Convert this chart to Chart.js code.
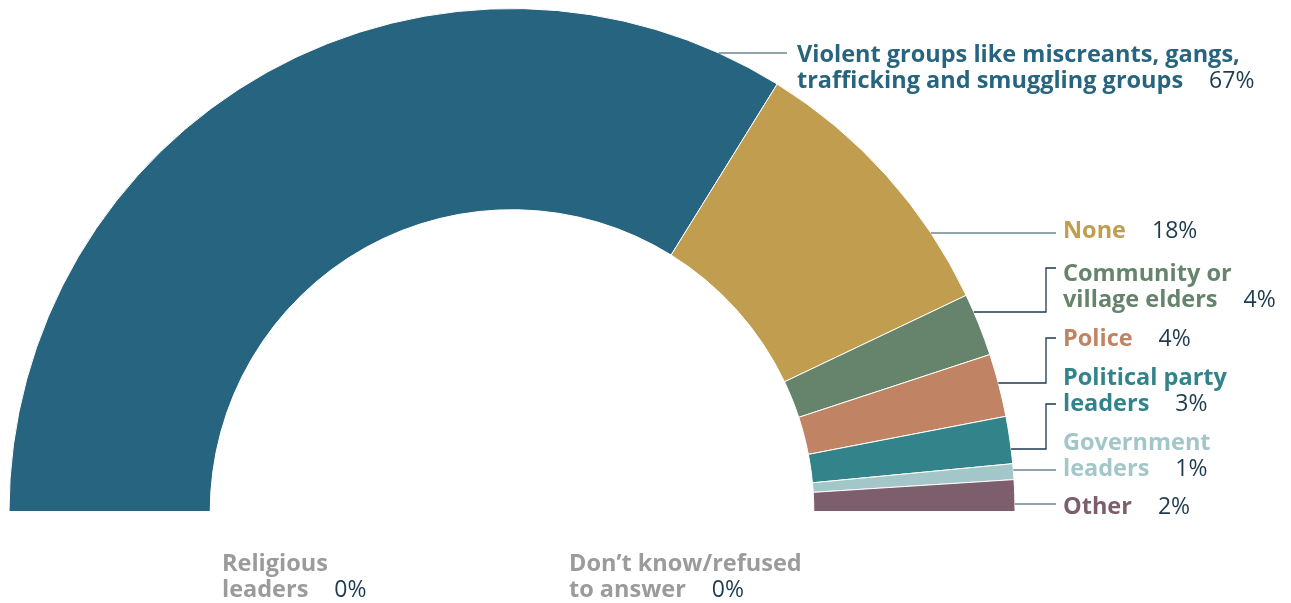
<!DOCTYPE html>
<html>
<head>
<meta charset="utf-8">
<script src="https://cdn.jsdelivr.net/npm/chart.js@4"></script>
<style>
  html, body { margin: 0; padding: 0; background: #fff; }
  #wrap { width: 1291px; height: 603px; position: relative; }
</style>
</head>
<body>
<div id="wrap"><canvas id="myChart"></canvas></div>
<script>
const labels = [
    "Violent groups like miscreants, gangs,\ntrafficking and smuggling groups",
    "None",
    "Community or\nvillage elders",
    "Police",
    "Political party\nleaders",
    "Government\nleaders",
    "Other",
];
const values = [67, 18, 4, 4, 3, 1, 2];
const colors = ["#27647f", "#c09d4f", "#66846b", "#c08464", "#32838a", "#a3c6c8", "#7d5e6c"];

// answers at 0% - no slice, text only
const zeroLabels = ["Religious\nleaders", "Don\u2019t know/refused\nto answer"];
const zeroValues = [0, 0];

// label layout: text x, first line y, leader line y at the arc, elbow top (or null)
const labelPos = [
    { x: 797, y: 55, lineY: 53, elbow: null, lineEnd: 787, lineColor: "#6f8593" },
    { x: 1063, y: 231, lineY: 233, elbow: null, lineEnd: 1056, lineColor: "#6f8593" },
    { x: 1063, y: 274, lineY: 312, elbow: 268, lineEnd: 1056, lineColor: "#1e3a4f" },
    { x: 1063, y: 339, lineY: 383, elbow: 338, lineEnd: 1056, lineColor: "#1e3a4f" },
    { x: 1063, y: 378, lineY: 449, elbow: 404, lineEnd: 1056, lineColor: "#1e3a4f" },
    { x: 1063, y: 443, lineY: 470, elbow: null, lineEnd: 1056, lineColor: "#6f8593" },
    { x: 1063, y: 507, lineY: 504, elbow: null, lineEnd: 1056, lineColor: "#6f8593" },
];
const zeroPos = [{ x: 222, y: 564 }, { x: 569, y: 564 }];

const labelFont = "700 23.5px 'Open Sans'";
const pctFont = "400 23px 'Open Sans'";
const pctColor = "#1d3b4f";
const lineH = 26;

function drawLabel(ctx, text, x, y, color, pct) {
    const lines = text.split("\n");
    ctx.font = labelFont;
    ctx.fillStyle = color;
    ctx.textBaseline = "middle";
    ctx.textAlign = "left";
    lines.forEach((ln, i) => ctx.fillText(ln, x, y + i * lineH));
    const last = lines[lines.length - 1];
    const w = ctx.measureText(last).width;
    ctx.font = pctFont;
    ctx.fillStyle = pctColor;
    ctx.fillText(pct + "%", x + w + 26, y + (lines.length - 1) * lineH);
}

const labelPlugin = {
    id: "labels",
    afterDraw(chart) {
        const ctx = chart.ctx;
        const arc = chart.getDatasetMeta(0).data[0];
        const cx = arc.x, cy = arc.y, R = arc.outerRadius;
        ctx.save();
        labels.forEach((lab, i) => {
            const p = labelPos[i];
            const dy = p.lineY - cy;
            const sx = cx + Math.sqrt(Math.max(R * R - dy * dy, 0));
            ctx.strokeStyle = p.lineColor;
            ctx.lineWidth = 1.3;
            ctx.beginPath();
            ctx.moveTo(sx, p.lineY);
            if (p.elbow !== null) {
                ctx.lineTo(1046, p.lineY);
                ctx.lineTo(1046, p.elbow);
            }
            ctx.lineTo(p.lineEnd, p.elbow !== null ? p.elbow : p.lineY);
            ctx.stroke();
            drawLabel(ctx, lab, p.x, p.y, colors[i], values[i]);
        });
        zeroLabels.forEach((lab, i) => {
            drawLabel(ctx, lab, zeroPos[i].x, zeroPos[i].y, "#9b9b9b", zeroValues[i]);
        });
        ctx.restore();
    },
};

const ctx = document.getElementById("myChart").getContext("2d");

const myChart = new Chart(ctx, {
    type: "doughnut",
    data: {
        labels,
        datasets: [{
            data: values,
            backgroundColor: colors,
            borderColor: "#ffffff",
            borderWidth: 1,
        }],
    },
    options: {
        responsive: true,
        maintainAspectRatio: false,
        animation: false,
        rotation: -90,
        circumference: 180,
        cutout: "60%",
        layout: { padding: { left: 8, top: 8, right: 275, bottom: 91 } },
        plugins: {
            legend: { display: false },
            tooltip: { enabled: false },
        },
    },
    plugins: [labelPlugin],
});
</script>
</body>
</html>
